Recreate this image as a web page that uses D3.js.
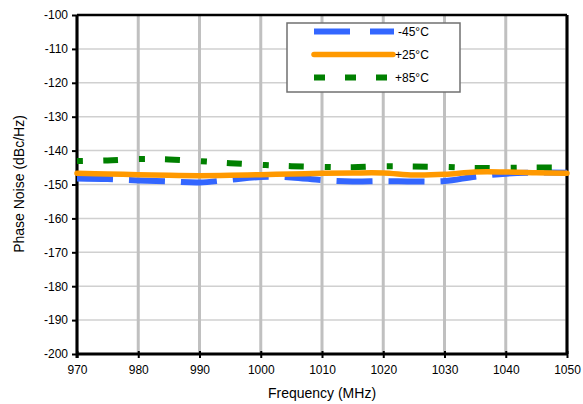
<!DOCTYPE html>
<html><head><meta charset="utf-8">
<script src="https://cdn.jsdelivr.net/npm/d3@7"></script>
<style>body{margin:0;background:#fff}text{font-family:"Liberation Sans",Arial,sans-serif;fill:#000}</style>
</head><body>
<svg id="c" width="583" height="404"></svg>
<script>
const freqs = [970,975,980,985,990,995,1000,1005,1010,1015,1020,1025,1030,1035,1040,1045,1050];
const m45 = [-148.2,-148.4,-148.8,-149.1,-149.4,-148.6,-147.8,-147.9,-148.7,-149.1,-149.0,-149.1,-149.0,-147.7,-146.8,-146.5,-146.5];
const p25 = [-146.7,-146.9,-147.1,-147.3,-147.4,-147.3,-147.1,-146.9,-146.7,-146.6,-146.6,-147.2,-147.0,-146.3,-146.3,-146.5,-146.7];
const p85 = [-143.1,-142.9,-142.5,-142.6,-143.1,-143.7,-144.2,-144.6,-144.8,-144.9,-144.6,-144.7,-144.8,-145.1,-145.1,-145.0,-145.0];
const xTicks = [970,980,990,1000,1010,1020,1030,1040,1050];
const yTicks = [-100,-110,-120,-130,-140,-150,-160,-170,-180,-190,-200];
const seriesNames = ["-45°C","+25°C","+85°C"];

const svg = d3.select("#c");
const L=77,R=567,T=15,B=354;
const x = d3.scaleLinear().domain([970,1050]).range([L,R]);
const y = d3.scaleLinear().domain([-200,-100]).range([B,T]);

// grid
svg.append("g").selectAll("line").data(yTicks).join("line")
  .attr("x1",L).attr("x2",R).attr("y1",d=>y(d)).attr("y2",d=>y(d))
  .attr("stroke","#d0d0d0").attr("stroke-width",1.5);
svg.append("g").selectAll("line").data(xTicks).join("line")
  .attr("x1",d=>x(d)).attr("x2",d=>x(d)).attr("y1",T).attr("y2",B)
  .attr("stroke","#c0c0c0").attr("stroke-width",3);

// frame
svg.append("line").attr("x1",L).attr("x2",R).attr("y1",T).attr("y2",T).attr("stroke","#000").attr("stroke-width",2.5);
svg.append("line").attr("x1",R).attr("x2",R).attr("y1",T).attr("y2",B).attr("stroke","#000").attr("stroke-width",3);

// axes
const fmt = d=>String(d);
const ax = svg.append("g").attr("transform",`translate(0,${B})`)
  .call(d3.axisBottom(x).tickValues(xTicks).tickSize(4).tickPadding(7).tickFormat(fmt));
const ay = svg.append("g").attr("transform",`translate(${L},0)`)
  .call(d3.axisLeft(y).tickValues(yTicks).tickSize(5).tickPadding(4).tickFormat(fmt));
[ax,ay].forEach(g=>{
  g.select(".domain").attr("stroke","#000").attr("stroke-width",3);
  g.selectAll(".tick line").attr("stroke","#000").attr("stroke-width",2);
  g.selectAll("text").style("font-size","12px").style("font-family","'Liberation Sans',Arial,sans-serif");
});
ax.select(".domain").attr("d",`M${L},0H${R}`);
ay.select(".domain").attr("d",`M0,${T}V${B+4}`);
ax.selectAll(".tick line").attr("y1",-3);

// lines
const line = d3.line().x((d,i)=>x(freqs[i])).y(d=>y(d)).curve(d3.curveCatmullRom);
const plot = svg.append("g");
plot.append("path").datum(m45).attr("d",line).attr("fill","none")
  .attr("stroke","#3366ff").attr("stroke-width",6).attr("stroke-dasharray","36,16");
plot.append("path").datum(p85).attr("d",line).attr("fill","none")
  .attr("stroke","#008000").attr("stroke-width",6).attr("stroke-dasharray","6,20,15,21");
plot.append("path").datum(p25).attr("d",line).attr("fill","none")
  .attr("stroke","#ff9900").attr("stroke-width",5.5).attr("stroke-linecap","round");

// legend
const lg = svg.append("g");
lg.append("rect").attr("x",287).attr("y",23).attr("width",173).attr("height",69)
  .attr("fill","#fff").attr("stroke","#707070").attr("stroke-width",1.5);
const legY=[31.5,54.5,77.5];
const legStyle=[
  {c:"#3366ff",w:6,da:"36,20",cap:"butt"},
  {c:"#ff9900",w:5.5,da:null,cap:"round"},
  {c:"#008000",w:6,da:"11,20",cap:"butt"}];
seriesNames.forEach((n,i)=>{
  const s=legStyle[i];
  const l=lg.append("line").attr("x1",314).attr("x2",i===1?393:394).attr("y1",legY[i]).attr("y2",legY[i])
    .attr("stroke",s.c).attr("stroke-width",s.w).attr("stroke-linecap",s.cap);
  if(s.da) l.attr("stroke-dasharray",s.da);
  lg.append("text").attr("x",i===0?398:395).attr("y",legY[i]+4.5).style("font-size","12px").text(n);
});

// titles
svg.append("text").attr("x",322).attr("y",398).attr("text-anchor","middle").style("font-size","14px").text("Frequency (MHz)");
svg.append("text").attr("transform","translate(24,184) rotate(-90)").attr("text-anchor","middle").style("font-size","14px").text("Phase Noise (dBc/Hz)");
</script>
</body></html>
